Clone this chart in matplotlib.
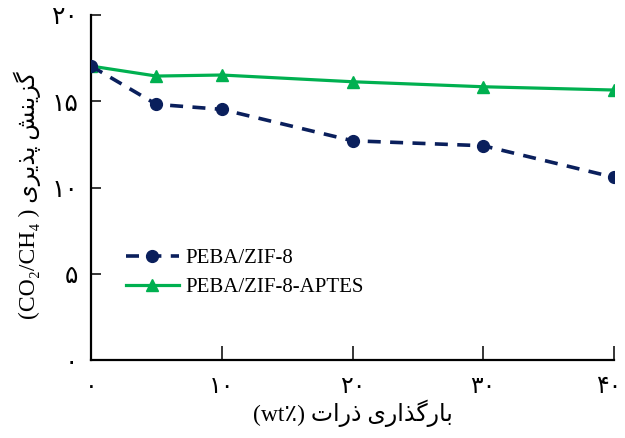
import matplotlib
matplotlib.use("Agg")
import matplotlib.pyplot as plt
import matplotlib.transforms as mtransforms

# Particle loading (wt%)
loading = [0, 5, 10, 20, 30, 40]
# CO2/CH4 selectivity
sel_zif8 = [17.04, 14.82, 14.53, 12.71, 12.42, 10.59]
sel_zif8_aptes = [17.04, 16.46, 16.52, 16.13, 15.84, 15.65]

series_names = ["PEBA/ZIF-8", "PEBA/ZIF-8-APTES"]

fa = "0123456789"
fa_digits = "۰۱۲۳۴۵۶۷۸۹"


def to_fa(n):
    return "".join(fa_digits[fa.index(c)] for c in str(n))


xticks = [0, 10, 20, 30, 40]
yticks = [0, 5, 10, 15, 20]

# Persian labels written in visual order with contextual letter forms
ylabel_fa = "\uFBFC\uFEAE\uFBFE\uFEAC\uFB58 \uFEB6\uFEE8\uFBFE\uFEB0\uFB94"
ylabel = "(CO\u2082/CH\u2084 ) " + ylabel_fa
xlabel = "(wt\u066A) " + "\uFE95\uFE8D\uFEAD\uFEAB" + " " + \
    "\uFBFC\uFEAD\uFE8D\uFEAC\uFB94\uFEAD\uFE8E\uFE91"

plt.rcParams["font.family"] = ["Liberation Serif", "DejaVu Sans"]

fig = plt.figure(figsize=(6.25, 4.38), dpi=100)
ax = fig.add_axes([0.1456, 0.178, 0.8368, 0.7878])

navy = "#0a1f5c"
green = "#00b050"

ax.plot(loading, sel_zif8, color=navy, lw=2.6, ls=(0, (3.6, 2.6)),
        marker="o", ms=8.5, label=series_names[0], zorder=3)
ax.plot(loading, sel_zif8_aptes, color=green, lw=2.3, ls="-",
        marker="^", ms=8.5, label=series_names[1], zorder=2)

ax.set_xlim(0, 40)
ax.set_ylim(0, 20)
ax.set_xticks(xticks)
ax.set_xticklabels([to_fa(v) for v in xticks])
ax.set_yticks(yticks)
ax.set_yticklabels([to_fa(v) for v in yticks])

for s in ["top", "right"]:
    ax.spines[s].set_visible(False)
for s in ["left", "bottom"]:
    ax.spines[s].set_linewidth(1.6)

ax.tick_params(axis="y", direction="in", length=7, width=1.1, pad=9,
               labelsize=18)
ax.tick_params(axis="x", direction="in", length=10, width=1.1, pad=10,
               labelsize=17)
for lab in ax.get_xticklabels() + ax.get_yticklabels():
    lab.set_fontfamily(["DejaVu Sans"])

# keep the last x tick label inside the figure edge
last = ax.get_xticklabels()[-1]
last.set_transform(last.get_transform() +
                   mtransforms.ScaledTranslation(-5 / 100, 0,
                                                 fig.dpi_scale_trans))

ax.set_ylabel(ylabel, fontsize=17)
ax.yaxis.set_label_coords(-0.095, 0.478)
ax.set_xlabel(xlabel, fontsize=17, labelpad=1)

ax.legend(loc="lower left", bbox_to_anchor=(0.066, 0.182), frameon=False,
          fontsize=15, handlelength=2.55, handletextpad=0.3,
          labelspacing=0.45, borderaxespad=0, borderpad=0)

fig.savefig("out.png", dpi=100)
